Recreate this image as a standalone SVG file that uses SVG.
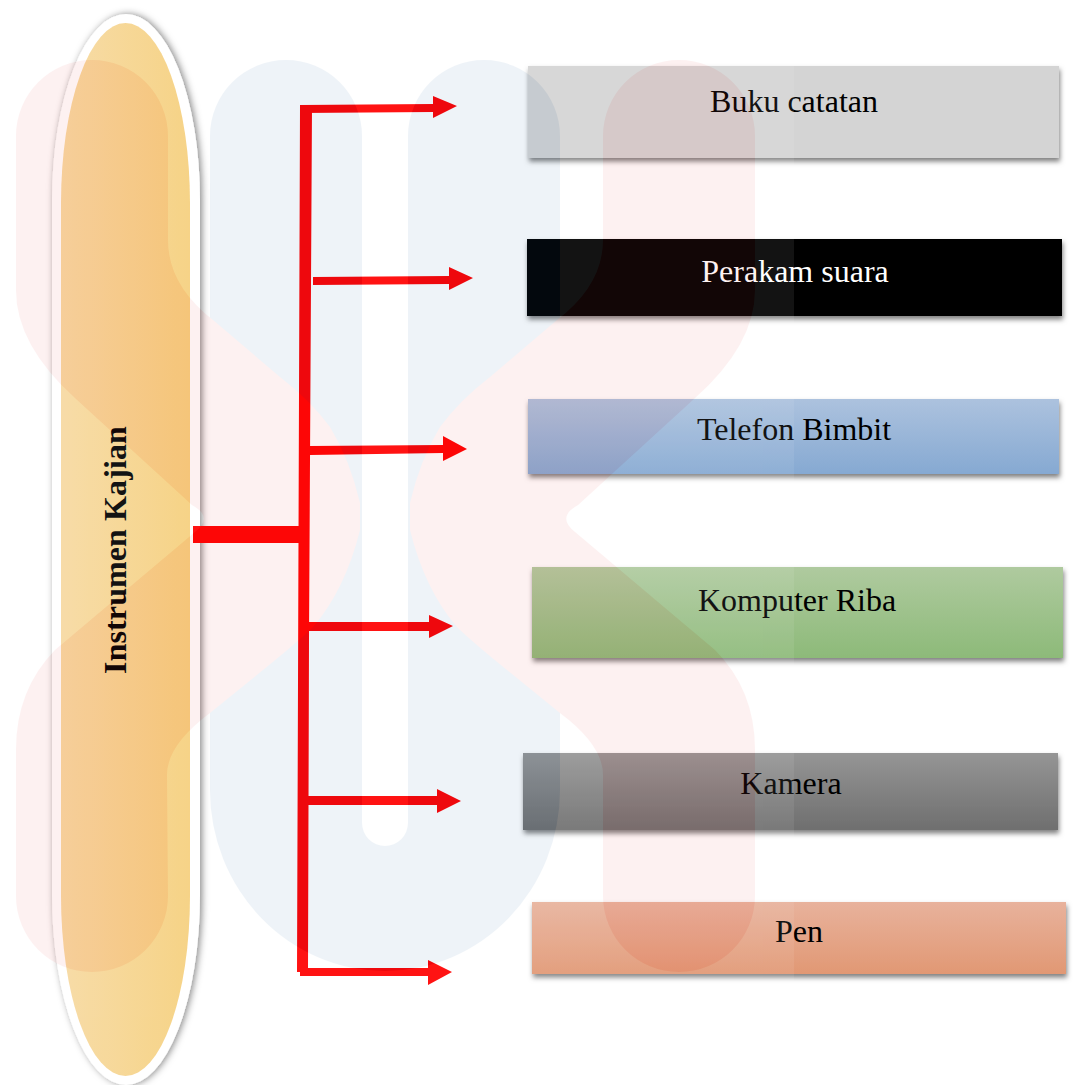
<svg xmlns="http://www.w3.org/2000/svg" width="1075" height="1085" viewBox="0 0 1075 1085">
<style>
.t{font-family:"Liberation Serif","Times New Roman",serif;font-size:32px;fill:#000;text-anchor:middle}
.c{fill:#ff0000}
</style>
<defs>
<filter id="bs" x="-5%" y="-20%" width="110%" height="145%"><feDropShadow dx="1" dy="3.5" stdDeviation="2.5" flood-color="#000" flood-opacity=".5"/></filter>
<filter id="os" x="-15%" y="-3%" width="130%" height="106%"><feDropShadow dx="2" dy="0" stdDeviation="3.5" flood-color="#000" flood-opacity=".5"/></filter>
<linearGradient id="go" x1="0" x2="1" y1="0" y2="0"><stop offset="0" stop-color="#f7d9a1"/><stop offset="1" stop-color="#f6d07d"/></linearGradient>
<linearGradient id="g3" x1="0" x2="0" y1="0" y2="1"><stop offset="0" stop-color="#acc2de"/><stop offset="1" stop-color="#86a9d2"/></linearGradient>
<linearGradient id="g4" x1="0" x2="0" y1="0" y2="1"><stop offset="0" stop-color="#afca9f"/><stop offset="1" stop-color="#8dba79"/></linearGradient>
<linearGradient id="g5" x1="0" x2="0" y1="0" y2="1"><stop offset="0" stop-color="#959595"/><stop offset="1" stop-color="#6f6f6f"/></linearGradient>
<linearGradient id="g6" x1="0" x2="0" y1="0" y2="1"><stop offset="0" stop-color="#e8b29c"/><stop offset="1" stop-color="#e19874"/></linearGradient>
</defs>
<rect width="1075" height="1085" fill="#fff"/>
<g id="node-instrumen">
<path d="M52,200 A74,186 0 0 1 200,200 L200,895 A74,190 0 0 1 52,895 Z" fill="#fff" filter="url(#os)"/>
<path d="M61,203 A64.5,180 0 0 1 190,203 L190,896 A64.5,180 0 0 1 61,896 Z" fill="url(#go)"/>
<text class="t" transform="translate(126,550) rotate(-90)" style="font-weight:bold;font-size:32px;letter-spacing:.1px">Instrumen Kajian</text>
</g>
<g id="connectors">
<rect class="c" x="193" y="526" width="108" height="17"/>
<polygon class="c" points="300,106 312,106 309,640 308,972 297,972"/>
<polygon class="c" points="300,105 433,104 433,96 457,106 433,118 433,112 300,113"/>
<polygon class="c" points="313,277 449,276 449,267 473,278 449,290 449,284 313,285"/>
<polygon class="c" points="310,446 443,445 443,436 467,449 443,461 443,453 310,455"/>
<polygon class="c" points="308,622 429,622 429,615 453,626 429,638 429,631 308,631"/>
<polygon class="c" points="308,796 437,796 437,789 461,801 437,813 437,805 308,805"/>
<polygon class="c" points="300,968 428,968 428,960 452,972 428,985 428,976 300,976"/>
</g>
<g id="node-buku"><rect x="528" y="66" width="531" height="92" fill="#d4d4d4" filter="url(#bs)"/><text class="t" x="794" y="112">Buku catatan</text></g>
<g id="node-perakam"><rect x="527" y="239" width="535" height="77" fill="#020202" filter="url(#bs)"/><text class="t" x="795" y="282" style="fill:#fff">Perakam suara</text></g>
<g id="node-telefon"><rect x="528" y="399" width="531" height="75" fill="url(#g3)" filter="url(#bs)"/><text class="t" x="794" y="440">Telefon Bimbit</text></g>
<g id="node-komputer"><rect x="532" y="567" width="531" height="91" fill="url(#g4)" filter="url(#bs)"/><text class="t" x="797" y="611">Komputer Riba</text></g>
<g id="node-kamera"><rect x="523" y="753" width="535" height="77" fill="url(#g5)" filter="url(#bs)"/><text class="t" x="791" y="794">Kamera</text></g>
<g id="node-pen"><rect x="532" y="902" width="534" height="72" fill="url(#g6)" filter="url(#bs)"/><text class="t" x="799" y="942">Pen</text></g>
<g id="watermark" opacity=".075">
<rect x="0" y="0" width="794" height="1085" fill="#fff"/>
<path fill="#2c6cab" d="M210,136 A76,76 0 0 1 362,136 L362,823 A23,23 0 0 0 408,823 L408,136 A76,76 0 0 1 560,136 L560,790 A175,181 0 0 1 210,790 Z"/>
<path fill="#f04d4d" d="M16,136 A76,76 0 0 1 168,136 L168,240 Q168,285 213,320 L280,377 Q310,400 330,427 Q350,460 360,503 L360,530 Q345,590 313,627 Q300,640 263,670 L210,713 Q167,745 167,775 L168,896 A76,76 0 0 1 16,896 L16,750 Q16,690 55,650 L195,532 Q214,517 192,505 L76,399 Q16,345 16,290 Z"/>
<path fill="#f04d4d" d="M603,136 A76,76 0 0 1 755,136 L755,290 Q755,345 694,399 L578,505 Q556,517 575,532 L715,650 Q755,690 755,750 L755,896 A76,76 0 0 1 603,896 L603,775 Q603,745 560,713 L507,670 Q470,640 457,627 Q425,590 410,530 L410,503 Q420,460 440,427 Q460,400 490,377 L557,320 Q603,285 603,240 Z"/>
</g>
</svg>
